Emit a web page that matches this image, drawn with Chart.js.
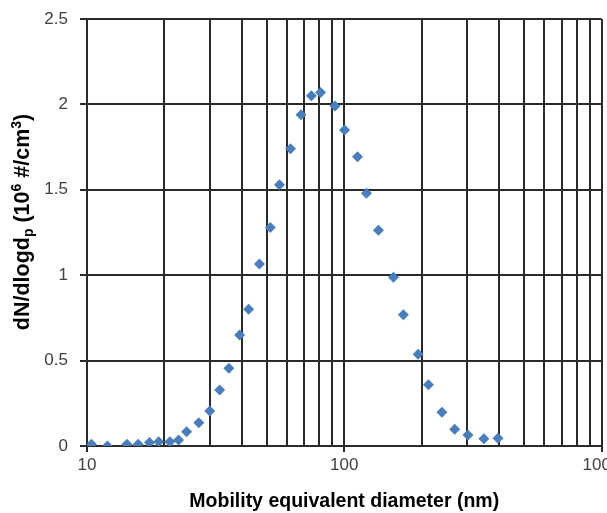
<!DOCTYPE html>
<html>
<head>
<meta charset="utf-8">
<script src="https://cdn.jsdelivr.net/npm/chart.js@4/dist/chart.umd.min.js"></script>
<style>
html,body{margin:0;padding:0;background:#fff;overflow:hidden;}
#wrap{width:607px;height:513px;}
</style>
</head>
<body>
<div id="wrap"><canvas id="c" width="607" height="513"></canvas></div>
<script>
// Mobility equivalent diameter (nm)
const diameters = [10.4, 12.0, 14.3, 15.8, 17.5, 19.0, 21.0, 22.7, 24.4, 27.2, 30.0, 32.8, 35.6, 39.2, 42.5, 46.8, 51.6, 56.0, 61.8, 67.9, 74.5, 80.9, 92.0, 100.3, 112.6, 122.0, 135.8, 155.3, 169.8, 193.7, 212.4, 239.7, 268.7, 302.6, 349.0, 396.0];
// dN/dlogdp (10^6 #/cm^3)
const concentrations = [0.01, 0.0, 0.01, 0.01, 0.02, 0.025, 0.025, 0.035, 0.084, 0.136, 0.205, 0.328, 0.455, 0.65, 0.80, 1.066, 1.28, 1.53, 1.74, 1.94, 2.05, 2.07, 1.99, 1.85, 1.694, 1.48, 1.263, 0.988, 0.769, 0.537, 0.359, 0.197, 0.098, 0.064, 0.043, 0.045];
const xTicks = [10,20,30,40,50,60,70,80,90,100,200,300,400,500,600,700,800,900,1000];
const xLabels = [10, 100, 1000];
const yTicks = [0, 0.5, 1, 1.5, 2, 2.5];
// y-axis title pieces: shift 0 = normal, -1 = subscript, 1 = superscript
const yTitleText = ['dN/dlogd', 'p', ' (10', '6', ' #/cm', '3', ')'];
const yTitleShift = [0, -1, 0, 1, 0, 1, 0];
const xTitle = 'Mobility equivalent diameter (nm)';

const points = diameters.map((d, i) => ({x: d, y: concentrations[i]}));
const gridColor = '#2a2a2a';
const gridWidth = 2;

const yTitlePlugin = {
  id: 'yTitle',
  afterDraw(chart) {
    const ctx = chart.ctx;
    const F = 21.5;
    ctx.save();
    ctx.fillStyle = '#000';
    ctx.textBaseline = 'alphabetic';
    ctx.textAlign = 'left';
    let total = 0;
    const fonts = yTitleShift.map(s => 'bold ' + (s ? Math.round(F * 0.65) : F) + 'px "Liberation Sans", Arial, sans-serif');
    yTitleText.forEach((t, i) => { ctx.font = fonts[i]; total += ctx.measureText(t).width; });
    const cy = 222; // centre of the title along the axis
    ctx.translate(29, cy + total / 2);
    ctx.rotate(-Math.PI / 2);
    let x = 0;
    yTitleText.forEach((t, i) => {
      ctx.font = fonts[i];
      const s = yTitleShift[i];
      const dy = s === 1 ? -F * 0.36 : (s === -1 ? F * 0.2 : 0);
      ctx.fillText(t, x, dy);
      x += ctx.measureText(t).width;
    });
    ctx.restore();
  }
};

new Chart(document.getElementById('c'), {
  type: 'scatter',
  data: {
    datasets: [{
      data: points,
      pointStyle: 'rectRot',
      pointRadius: 5.5,
      pointHoverRadius: 5.5,
      backgroundColor: '#4A7EBB',
      borderColor: '#4A7EBB',
      borderWidth: 0
    }]
  },
  plugins: [yTitlePlugin],
  options: {
    responsive: false,
    animation: false,
    layout: {padding: {top: 19, right: 4, left: 0, bottom: 0}},
    plugins: {legend: {display: false}, tooltip: {enabled: false}},
    scales: {
      x: {
        type: 'logarithmic',
        min: 10,
        max: 1000,
        afterBuildTicks: s => { s.ticks = xTicks.map(v => ({value: v, major: xLabels.includes(v)})); },
        afterFit: s => { s.height = 67; s.paddingLeft = 0; s.paddingRight = 0; },
        grid: {
          color: gridColor,
          lineWidth: gridWidth,
          tickLength: 6,
          tickColor: ctx => (ctx.tick && xLabels.includes(ctx.tick.value)) ? gridColor : 'rgba(0,0,0,0)'
        },
        border: {color: gridColor, width: gridWidth},
        ticks: {
          autoSkip: false,
          maxRotation: 0,
          padding: 3,
          color: '#404040',
          font: {family: 'Liberation Sans', size: 17},
          callback: v => xLabels.includes(v) ? String(v) : ''
        },
        title: {
          display: true,
          text: xTitle,
          color: '#000',
          font: {family: 'Liberation Sans', size: 19.5, weight: 'bold'},
          padding: {top: 0, bottom: 0}
        }
      },
      y: {
        min: 0,
        max: 2.5,
        afterBuildTicks: s => { s.ticks = yTicks.map(v => ({value: v})); },
        afterFit: s => { s.width = 87; s.paddingTop = 0; s.paddingBottom = 0; },
        grid: {color: gridColor, lineWidth: gridWidth, tickLength: 7},
        border: {color: gridColor, width: gridWidth},
        ticks: {
          padding: 12,
          color: '#404040',
          font: {family: 'Liberation Sans', size: 17},
          callback: v => String(Number(v))
        },
        title: {display: false}
      }
    }
  }
});
</script>
</body>
</html>
